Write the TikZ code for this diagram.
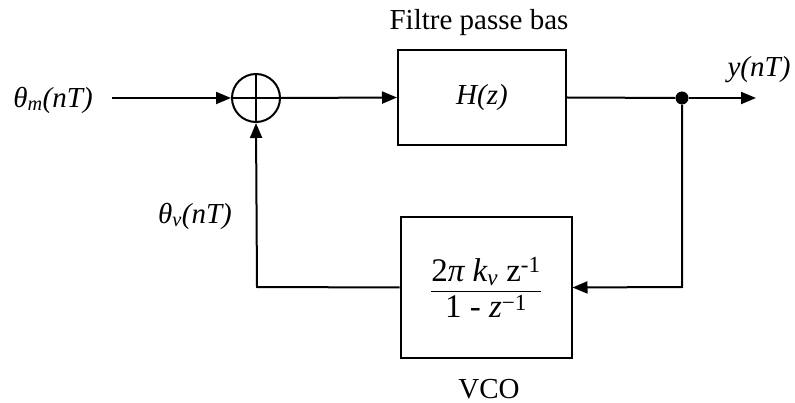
\documentclass[tikz,border=0pt]{standalone}
\usepackage{fontspec}
\usepackage{amsmath}
\setmainfont{Liberation Serif}
\usetikzlibrary{arrows.meta}
\begin{document}
\begin{tikzpicture}[x=1pt,y=-1pt,
  every node/.style={font=\fontsize{29}{32}\selectfont},
  blockbox/.style={draw,line width=2pt,inner sep=0pt},
  conn/.style={line width=2pt},
  arr/.style={conn,-{Triangle[length=15pt,width=12pt]}},
  sumnode/.style={circle,draw,line width=2pt,minimum size=48pt,inner sep=0pt},
  lbl/.style={inner sep=0pt}]
\useasboundingbox (0,0) rectangle (795,403);
% nodes
\node[lbl] (thm) at (53,100) {\itshape θ\textsubscript{m}(nT)};
\coordinate (in) at (112,98);
\node[sumnode] (s) at (256,98) {};
\draw[conn] (s.north) -- (s.south) (s.west) -- (s.east);
\node[blockbox,minimum width=168pt,minimum height=95pt] (H) at (482,97.5) {\itshape H(z)};
\node[lbl] (ftitle) at (479,23) {Filtre passe bas};
\node[circle,fill,inner sep=0pt,minimum size=13pt] (dot) at (682,98) {};
\coordinate (out) at (756,98);
\node[lbl] (yl) at (759,70) {\itshape y(nT)};
\node[blockbox,minimum width=171pt,minimum height=141pt] (V) at (486,287.5)
  {\fontsize{33}{36}\selectfont$\dfrac{\text{2}\textit{π}\text{ }\textit{k}_{\textit{v}}\text{ z}^{\text{-1}}}{\text{1 - }\textit{z}^{\text{−1}}}$};
\node[lbl,anchor=base] (vco) at (489,398) {VCO};
\node[lbl] (thv) at (195,216) {\itshape θ\textsubscript{v}(nT)};
\coordinate (fbr) at (682,287);
\coordinate (fbl) at (257,287);
% connectors
\draw[arr] (in) -- (s.west);
\draw[arr] (s.east) -- (H.west);
\draw[conn] (H.east) -- (dot);
\draw[arr] (dot) -- (out);
\draw[arr] (dot) -- (fbr) -- (V.east);
\draw[arr] (V.west) -- (fbl) -- (s.south);
\end{tikzpicture}
\end{document}
